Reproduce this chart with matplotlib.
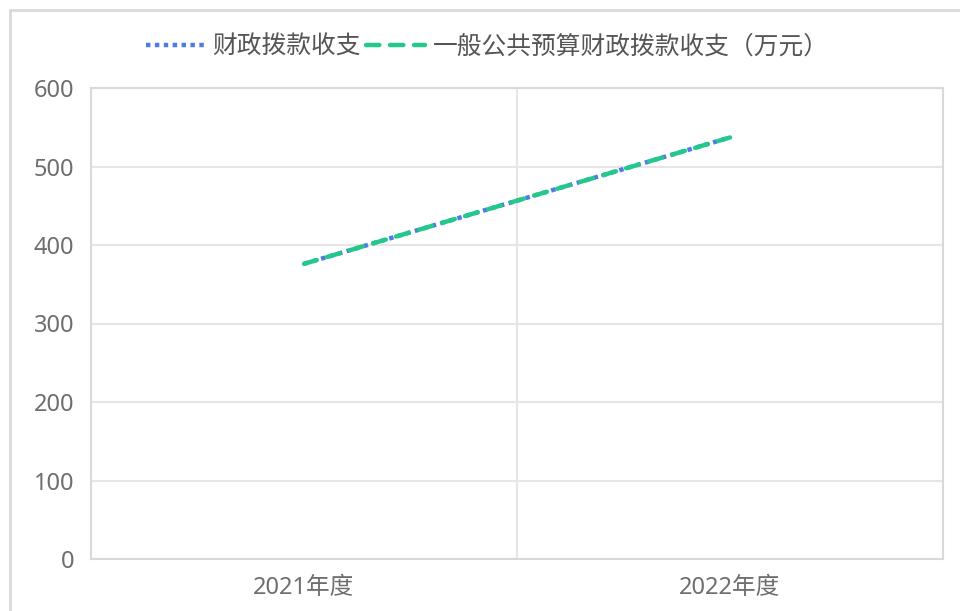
import matplotlib
matplotlib.use("Agg")
import matplotlib.pyplot as plt
from matplotlib.patches import Rectangle
from matplotlib.lines import Line2D

plt.rcParams['font.family'] = ['Noto Sans', 'Noto Sans CJK SC', 'DejaVu Sans']

categories = ["2021年度", "2022年度"]
series1_name = "财政拨款收支"
series1 = [376, 537]
series2_name = "一般公共预算财政拨款收支（万元）"
series2 = [376, 537]
yticks = [0, 100, 200, 300, 400, 500, 600]

W, H = 960, 611
fig = plt.figure(figsize=(W / 100, H / 100), dpi=100)
ax = fig.add_axes([91 / W, 1 - 559 / H, (943 - 91) / W, (559 - 88) / H])

BLUE = "#4f7be8"
GREEN = "#22c98a"
DOT = (0, (1.0, 1.0))
DASH = (0, (3.0, 2.4))

x = list(range(len(categories)))
ax.plot(x, series1, color=BLUE, lw=3.2, linestyle=DOT,
        dash_capstyle="butt", zorder=3)
ax.plot(x, series2, color=GREEN, lw=3.2, linestyle=DASH,
        dash_capstyle="round", zorder=4)

ax.set_xlim(-0.5, len(categories) - 0.5)
ax.set_ylim(0, 600)
ax.set_yticks(yticks)
ax.set_xticks(x)
ax.set_xticklabels(categories)
ax.set_xticks([i + 0.5 for i in range(len(categories) - 1)], minor=True)
ax.grid(axis="y", color="#e6e6e6", lw=1.5)
ax.grid(axis="x", which="minor", color="#e6e6e6", lw=1.5)
ax.tick_params(which="both", length=0)
ax.tick_params(axis="y", labelsize=17, colors="#6e6e6e", pad=12)
ax.tick_params(axis="x", labelsize=17, colors="#6e6e6e", pad=12)
for s in ax.spines.values():
    s.set_color("#d9d9d9")
    s.set_linewidth(1.5)
ax.set_axisbelow(True)

# outer frame
fig.patches.append(Rectangle((10 / W, -0.1), 1.2, 1 - 10 / H + 0.1,
                             transform=fig.transFigure, fill=False,
                             edgecolor="#d9d9d9", lw=2))

handles = [
    Line2D([], [], color=BLUE, lw=3.2, linestyle=DOT, dash_capstyle="butt"),
    Line2D([], [], color=GREEN, lw=3.2, linestyle=DASH, dash_capstyle="round"),
]
fig.legend(handles, [series1_name, series2_name], loc="center",
           bbox_to_anchor=(487 / W, 1 - 47 / H), ncol=2, frameon=False,
           fontsize=17.8, labelcolor="#555555", handlelength=2.4,
           handletextpad=0.3, columnspacing=0.2)

fig.savefig("out.png", dpi=100)
